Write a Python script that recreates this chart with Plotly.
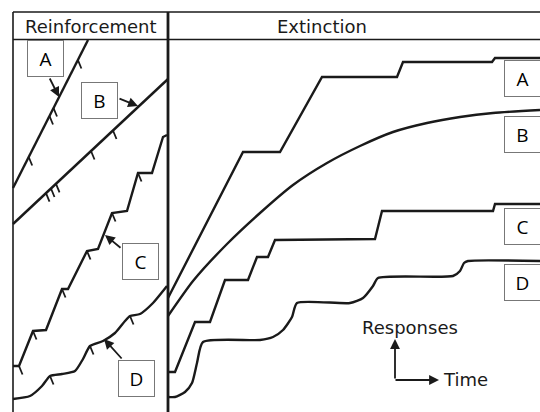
import plotly.graph_objects as go

# ---------------- data (time, cumulative responses) ----------------
# Reinforcement panel
REINF_A_T = [13, 88]
REINF_A_R = [224, 372]
REINF_A_TICKS_T = [28.7, 49.5, 53.5, 77.9]
REINF_A_TICKS_R = [255, 296, 304, 352]

REINF_B_T = [13, 168]
REINF_B_R = [188, 333]
REINF_B_TICKS_T = [46, 51, 56, 91, 113]
REINF_B_TICKS_R = [218.8, 223.5, 228.2, 261, 281.5]

REINF_C_T = [13, 19, 33, 46, 62, 68, 87, 98, 112, 127, 138, 152, 163, 167]
REINF_C_R = [46, 46, 81, 82, 123, 123, 161, 163, 199, 201, 239, 239, 275, 277]
REINF_C_TICKS_T = [19, 33, 62, 87, 112, 138]
REINF_C_TICKS_R = [46, 81, 123, 161, 199, 239]

REINF_D_T = [13, 30, 42, 50, 62, 75, 83, 90, 103, 115, 125, 130, 140, 153, 163, 167]
REINF_D_R = [13, 16, 26, 36, 38, 41, 53, 66, 71, 79, 91, 96, 98, 109, 121, 126]
REINF_D_TICKS_T = [50, 90, 130]
REINF_D_TICKS_R = [36, 66, 96]

# Extinction panel
EXT_A_T = [168, 243, 280, 322, 397, 403, 492, 495, 540]
EXT_A_R = [114, 260, 260, 335, 335, 350, 350, 354, 354]

EXT_B_T = [168, 193, 227, 260, 293, 327, 360, 393, 427, 460, 493, 540]
EXT_B_R = [96, 131, 168, 199, 227, 249, 266, 280, 289, 295, 299, 302]

EXT_C_T = [168, 175, 195, 210, 225, 248, 257, 268, 275, 375, 382, 493, 495, 540]
EXT_C_R = [40, 40, 90, 90, 132, 132, 155, 155, 172, 173, 201, 201, 208, 208]

EXT_D_T = [168, 175, 185, 192, 197, 203, 260, 273, 283, 292, 297, 350, 363, 373,
           378, 453, 460, 464, 468, 540]
EXT_D_R = [15, 15, 20, 29, 49, 70, 72, 75, 82, 95, 109, 109, 114, 126,
           134, 136, 141, 149, 151, 151]

PANEL_TITLES = ["Reinforcement", "Extinction"]
CURVE_LABELS = ["A", "B", "C", "D"]

# ---------------- figure ----------------
INK = "#1a1a1a"
LW = 2.4
fig = go.Figure()


def curve(t, r, smooth=False):
    fig.add_trace(go.Scatter(
        x=t, y=r, mode="lines",
        line=dict(color=INK, width=LW, shape="spline" if smooth else "linear",
                  smoothing=0.6 if smooth else None),
        hoverinfo="skip"))


def ticks(tt, rr):
    xs, ys = [], []
    for t, r in zip(tt, rr):
        xs += [t, t + 3.5, None]
        ys += [r, r - 8.5, None]
    fig.add_trace(go.Scatter(x=xs, y=ys, mode="lines",
                             line=dict(color=INK, width=1.8), hoverinfo="skip"))


curve(REINF_A_T, REINF_A_R)
ticks(REINF_A_TICKS_T, REINF_A_TICKS_R)
curve(REINF_B_T, REINF_B_R)
ticks(REINF_B_TICKS_T, REINF_B_TICKS_R)
curve(REINF_C_T, REINF_C_R)
ticks(REINF_C_TICKS_T, REINF_C_TICKS_R)
curve(REINF_D_T, REINF_D_R, smooth=True)
ticks(REINF_D_TICKS_T, REINF_D_TICKS_R)

curve(EXT_A_T, EXT_A_R)
curve(EXT_B_T, EXT_B_R, smooth=True)
curve(EXT_C_T, EXT_C_R)
curve(EXT_D_T, EXT_D_R, smooth=True)

# frame
shapes = [
    dict(type="line", x0=13, x1=13, y0=0, y1=400, line=dict(color=INK, width=1.6)),
    dict(type="line", x0=13, x1=540, y0=400, y1=400, line=dict(color=INK, width=1.6)),
    dict(type="line", x0=13, x1=540, y0=372.5, y1=372.5, line=dict(color=INK, width=1.6)),
    dict(type="line", x0=168, x1=168, y0=0, y1=400, line=dict(color=INK, width=2.8)),
]

ann = []
# panel titles
ann.append(dict(x=91, y=386, text=PANEL_TITLES[0], showarrow=False,
                font=dict(family="DejaVu Sans", size=18, color=INK)))
ann.append(dict(x=322, y=386, text=PANEL_TITLES[1], showarrow=False,
                font=dict(family="DejaVu Sans", size=18, color=INK)))

# pointer arrows (left panel)
for (tx, ty, axx, ayy) in [(59, 315, 49, 335), (138, 306, 118, 314),
                           (105, 177, 122, 163), (104, 73, 123, 52)]:
    ann.append(dict(x=tx, y=ty, ax=axx, ay=ayy, axref="x", ayref="y", text="",
                    showarrow=True, arrowhead=2, arrowsize=1.1, arrowwidth=1.8,
                    arrowcolor=INK, standoff=0, startstandoff=0))

# label boxes
box_pos = [(45.5, 354), (99.5, 312), (140.5, 151), (136.5, 33.5),
           (522.5, 333.5), (522.5, 277.5), (522.5, 185.5), (522.5, 129.5)]
for i, (bx, by) in enumerate(box_pos):
    ann.append(dict(x=bx, y=by, text=CURVE_LABELS[i % 4], showarrow=False,
                    width=35, height=35, borderpad=0, bordercolor="#777777",
                    borderwidth=1, bgcolor="white",
                    font=dict(family="Open Sans", size=19, color="black")))

# Responses / Time key
ann.append(dict(x=395, y=73, ax=395, ay=32, axref="x", ayref="y", text="",
                showarrow=True, arrowhead=2, arrowsize=1.1, arrowwidth=1.8,
                arrowcolor=INK, standoff=0))
ann.append(dict(x=439, y=32, ax=394, ay=32, axref="x", ayref="y", text="",
                showarrow=True, arrowhead=2, arrowsize=1.1, arrowwidth=1.8,
                arrowcolor=INK, standoff=0))
ann.append(dict(x=410, y=85, text="Responses", showarrow=False,
                font=dict(family="DejaVu Sans", size=18, color=INK)))
ann.append(dict(x=441, y=33, text="Time", showarrow=False, xanchor="left",
                font=dict(family="DejaVu Sans", size=18, color=INK)))

fig.update_layout(
    width=540, height=412, margin=dict(l=0, r=0, t=0, b=0),
    paper_bgcolor="white", plot_bgcolor="white", showlegend=False,
    xaxis=dict(range=[0, 540], visible=False, fixedrange=True),
    yaxis=dict(range=[0, 412], visible=False, fixedrange=True),
    shapes=shapes, annotations=ann,
)

fig.write_html(
    "out.html",
    config={"displayModeBar": False},
    post_script="document.body.style.margin='0';document.body.style.overflow='hidden';",
)
